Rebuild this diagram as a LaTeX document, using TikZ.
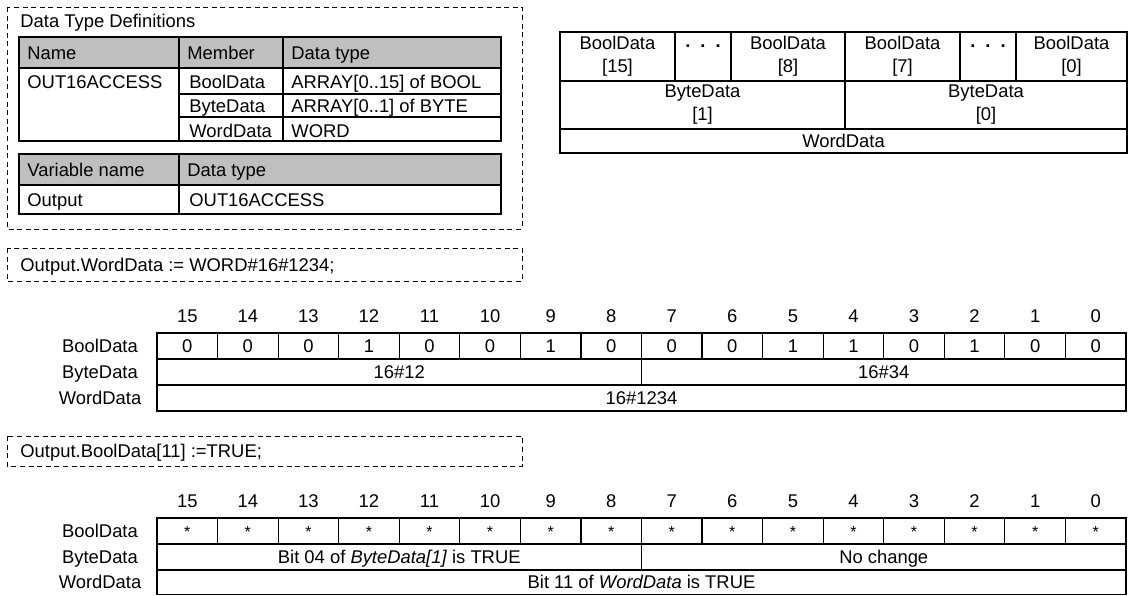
\documentclass[tikz,border=0pt]{standalone}
\usepackage{fontspec}
\setmainfont{Liberation Sans}
\begin{document}
\begin{tikzpicture}[x=0.5pt, y=-0.5pt, font=\fontsize{9.2}{11.5}\selectfont,
    frame/.style={draw, dash pattern=on 2.5pt off 1.8pt, line width=0.5pt},
    grid/.style={draw, line width=0.6pt},
    hdr/.style={fill=black!25},
    one/.style={text height=6.6pt, text depth=0pt},
    txt/.style={one, anchor=west, inner sep=0pt},
    pairbox/.style={draw, line width=0.6pt, anchor=north west, inner sep=0pt,
      outer sep=0pt, align=center},
    cell/.style={pairbox, one, minimum height=13pt},
    bitcell/.style={cell, minimum width=30.28pt}]
  \useasboundingbox (0,0) rectangle (1128,595);

  % data type definitions
  \draw[frame] (7,7) rectangle (522,229);
  \node[txt] (title) at (20,21) {Data Type Definitions};
  \fill[hdr] (19,37) rectangle (501,68);
  \draw[grid] (19,37) rectangle (501,141);
  \draw[grid] (19,68) -- (501,68);
  \draw[grid] (179,37) -- (179,141) (283,37) -- (283,141);
  \draw[grid] (179,94) -- (501,94) (179,117) -- (501,117);
  \node[txt] (hname) at (27,52.5) {Name};
  \node[txt] (hmember) at (187,52.5) {Member};
  \node[txt] (htype) at (291,52.5) {Data type};
  \node[txt] (tname) at (27,82) {OUT16ACCESS};
  \node[txt] (mbool) at (189,82) {BoolData};
  \node[txt] (tbool) at (291,82) {ARRAY[0..15] of BOOL};
  \node[txt] (mbyte) at (189,106) {ByteData};
  \node[txt] (tbyte) at (291,106) {ARRAY[0..1] of BYTE};
  \node[txt] (mword) at (189,131) {WordData};
  \node[txt] (tword) at (291,131) {WORD};

  \fill[hdr] (19,154) rectangle (501,185);
  \draw[grid] (19,154) rectangle (501,214);
  \draw[grid] (19,185) -- (501,185) (179,154) -- (179,214);
  \node[txt] (hvar) at (27,169.5) {Variable name};
  \node[txt] (hvtype) at (187,169.5) {Data type};
  \node[txt] (vname) at (27,199.5) {Output};
  \node[txt] (vtype) at (189,199.5) {OUT16ACCESS};

  % memory layout
  \node[pairbox, minimum width=57.5pt, minimum height=24.5pt] (rb15) at (560,32) {BoolData\\{[15]}};
  \node[pairbox, minimum width=28pt, minimum height=24.5pt] (rdots1) at (675,32) {};
  \node[pairbox, minimum width=57pt, minimum height=24.5pt] (rb8) at (731,32) {BoolData\\{[8]}};
  \node[pairbox, minimum width=57.5pt, minimum height=24.5pt] (rb7) at (845,32) {BoolData\\{[7]}};
  \node[pairbox, minimum width=28pt, minimum height=24.5pt] (rdots2) at (960,32) {};
  \node[pairbox, minimum width=55.5pt, minimum height=24.5pt] (rb0) at (1016,32) {BoolData\\{[0]}};
  \node[anchor=base, inner sep=0pt] (dots1) at (703,47) {\textbf{.\hspace{5pt}.\hspace{5pt}.}};
  \node[anchor=base, inner sep=0pt] (dots2) at (988,47) {\textbf{.\hspace{5pt}.\hspace{5pt}.}};
  \node[pairbox, minimum width=142.5pt, minimum height=24pt] (rby1) at (560,81) {ByteData\\{[1]}};
  \node[pairbox, minimum width=141pt, minimum height=24pt] (rby0) at (845,81) {ByteData\\{[0]}};
  \node[cell, minimum width=283.5pt, minimum height=12pt] (rword) at (560,129) {WordData};

  % Output.WordData := WORD#16#1234;
  \draw[frame] (7,248) rectangle (522,281);
  \node[txt] (code1) at (20,264.5) {Output.WordData := WORD\#16\#1234;};
  \node[one] (la1) at (100,346) {BoolData};
  \node[one] (la2) at (100,372) {ByteData};
  \node[one] (la3) at (100,398) {WordData};
  \foreach \v [count=\k from 0] in {0,0,0,1,0,0,1,0,0,0,1,1,0,1,0,0} {
    \pgfmathtruncatemacro\bit{15-\k}
    \node[one] (na\bit) at ({157+(\k+0.5)*60.5625},316) {\bit};
    \node[bitcell] (ba\bit) at ({157+\k*60.5625},333) {\v};
  }
  \node[cell, minimum width=242.25pt] (bya1) at (157,359) {16\#12};
  \node[cell, minimum width=242.25pt] (bya0) at (641.5,359) {16\#34};
  \node[cell, minimum width=484.5pt] (wa) at (157,385) {16\#1234};

  % Output.BoolData[11] :=TRUE;
  \draw[frame] (7,436) rectangle (522,466);
  \node[txt] (code2) at (20,451) {Output.BoolData[11] :=TRUE;};
  \node[one] (lb1) at (100,531) {BoolData};
  \node[one] (lb2) at (100,557) {ByteData};
  \node[one] (lb3) at (100,582) {WordData};
  \foreach \v [count=\k from 0] in {*,*,*,*,1,*,*,*,*,*,*,*,*,*,*,*} {
    \pgfmathtruncatemacro\bit{15-\k}
    \node[one] (nb\bit) at ({157+(\k+0.5)*60.5625},501) {\bit};
    \node[bitcell] (bb\bit) at ({157+\k*60.5625},518) {\ifx\v1 1\else{\footnotesize *}\fi};
  }
  \node[cell, minimum width=242.25pt] (byb1) at (157,544) {Bit 04 of \textit{ByteData[1]} is TRUE};
  \node[cell, minimum width=242.25pt] (byb0) at (641.5,544) {No change};
  \node[cell, minimum width=484.5pt, minimum height=12.25pt] (wb) at (157,570) {Bit 11 of \textit{WordData} is TRUE};
\end{tikzpicture}
\end{document}
